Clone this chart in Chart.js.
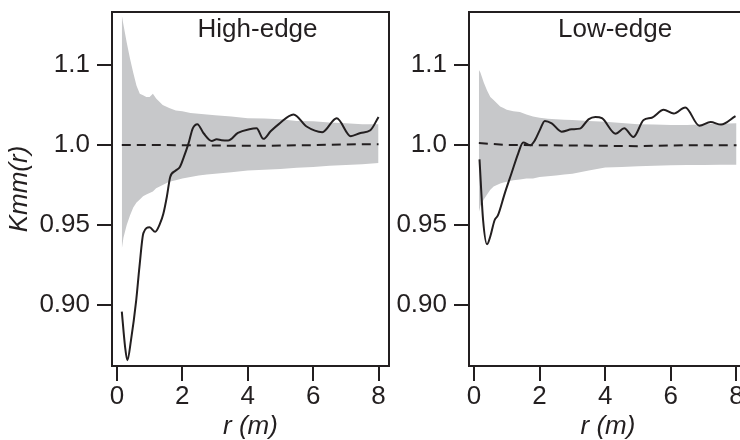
<!DOCTYPE html>
<html>
<head>
<meta charset="utf-8">
<script src="https://cdn.jsdelivr.net/npm/chart.js@4.4.7/dist/chart.umd.min.js"></script>
<style>
  html, body { margin: 0; padding: 0; background: #fff; overflow: hidden; }
  body { width: 740px; height: 440px; position: relative; }
  .panel { position: absolute; top: 0; height: 440px; }
  #highBox { left: 0; width: 400px; }
  #lowBox { left: 380px; width: 380px; }
</style>
</head>
<body>
<div class="panel" id="highBox"><canvas id="highChart"></canvas></div>
<div class="panel" id="lowBox"><canvas id="lowChart"></canvas></div>
<script>
// simulation envelope (grey band), shared r grid
const rBand = [0.15, 0.2, 0.3, 0.4, 0.5, 0.6, 0.7, 0.8, 0.9, 1.0, 1.1, 1.2, 1.4, 1.6, 1.8,
  2.0, 2.25, 2.5, 2.75, 3.0, 3.5, 4.0, 4.5, 5.0, 5.5, 6.0, 6.5, 7.0, 7.5, 8.0];
const highUpper = [1.081, 1.075, 1.064, 1.054, 1.045, 1.037, 1.032, 1.031, 1.030, 1.030, 1.032, 1.029, 1.025, 1.023, 1.0215,
  1.021, 1.020, 1.0195, 1.019, 1.0185, 1.0177, 1.0167, 1.0165, 1.016, 1.015, 1.0148, 1.014, 1.0135, 1.013, 1.013];
const highLower = [0.935, 0.942, 0.950, 0.956, 0.961, 0.964, 0.966, 0.968, 0.969, 0.970, 0.971, 0.973, 0.975, 0.977, 0.978,
  0.979, 0.980, 0.981, 0.9815, 0.982, 0.983, 0.984, 0.9845, 0.985, 0.9857, 0.9863, 0.987, 0.9875, 0.988, 0.9887];
const lowUpper = [1.047, 1.045, 1.039, 1.034, 1.030, 1.028, 1.026, 1.024, 1.023, 1.022, 1.0215, 1.021, 1.0205, 1.019, 1.0178,
  1.017, 1.0163, 1.016, 1.0157, 1.0155, 1.015, 1.0145, 1.0137, 1.013, 1.0128, 1.0125, 1.0125, 1.013, 1.0132, 1.0135];
const lowLower = [0.958, 0.962, 0.966, 0.969, 0.972, 0.974, 0.975, 0.976, 0.9765, 0.977, 0.9775, 0.978, 0.9785, 0.979, 0.979,
  0.980, 0.9805, 0.981, 0.9815, 0.982, 0.984, 0.986, 0.9863, 0.9867, 0.987, 0.9873, 0.9875, 0.9875, 0.9876, 0.9876];

// expected value (dashed)
const rTheo = [0.15, 1, 2, 3, 4, 5, 6, 7, 8];
const highTheo = [1.0, 1.0, 0.9998, 0.9996, 0.9995, 0.9996, 0.9999, 1.0003, 1.0005];
const lowTheo = [1.0012, 1.0, 0.9998, 0.9997, 0.9995, 0.9992, 0.9997, 0.9998, 0.9998];

// observed Kmm(r)
const rHigh = [0.15, 0.25, 0.32, 0.43, 0.59, 0.69, 0.81, 1.0, 1.17, 1.32, 1.42, 1.53, 1.63, 1.78, 1.93, 2.05, 2.19, 2.32, 2.46,
  2.65, 2.9, 3.05, 3.2, 3.4, 3.7, 4.05, 4.27, 4.48, 4.7, 4.95, 5.4, 5.8, 6.28, 6.72, 7.15, 7.45, 7.75, 8.0];
const kHigh = [0.896, 0.874, 0.8656, 0.878, 0.903, 0.924, 0.945, 0.9486, 0.9458, 0.951, 0.957, 0.968, 0.980, 0.9837, 0.9864, 0.9927, 1.001, 1.0104, 1.013,
  1.0073, 1.0025, 1.0035, 1.003, 1.0028, 1.0075, 1.0098, 1.0104, 1.0038, 1.0085, 1.013, 1.019, 1.0115, 1.008, 1.0167, 1.0055, 1.0075, 1.0092, 1.0175];
const rLow = [0.17, 0.28, 0.40, 0.5, 0.63, 0.73, 0.94, 1.14, 1.35, 1.50, 1.72, 1.86, 2.01, 2.16, 2.37, 2.67, 2.98, 3.23, 3.49, 3.70, 3.90,
  4.32, 4.58, 4.86, 5.17, 5.42, 5.78, 6.09, 6.44, 6.87, 7.21, 7.53, 7.97];
const kLow = [0.991, 0.953, 0.938, 0.943, 0.953, 0.956, 0.9698, 0.982, 0.9948, 1.0015, 0.9998, 1.003, 1.0094, 1.015, 1.0135, 1.0083, 1.0098, 1.0102, 1.016, 1.0175, 1.0167,
  1.007, 1.0104, 1.005, 1.0156, 1.017, 1.0219, 1.0196, 1.0234, 1.012, 1.0143, 1.0127, 1.018];

const xTicks = [0, 2, 4, 6, 8];
const yTicks = [0.90, 0.95, 1.00, 1.05];
const yTickLabels = ['0.90', '0.95', '1.0', '1.1'];

const FONT = '"Liberation Sans", Arial, Helvetica, sans-serif';
const INK = '#231f20';
const BAND = '#c7c8ca';

function pts(xs, ys) {
  return xs.map((x, i) => ({ x, y: ys[i] }));
}

// frame round the plot and the panel label inside it
const panelFrame = {
  id: 'panelFrame',
  afterDraw(chart, args, opts) {
    const { ctx, chartArea: a, scales } = chart;
    ctx.save();
    ctx.strokeStyle = INK;
    ctx.lineWidth = 2;
    ctx.strokeRect(a.left, a.top, a.right - a.left, a.bottom - a.top);
    ctx.fillStyle = INK;
    ctx.font = '26px ' + FONT;
    ctx.textAlign = 'center';
    ctx.textBaseline = 'alphabetic';
    ctx.fillText(opts.text, scales.x.getPixelForValue(opts.at), a.top + 25);
    ctx.restore();
  }
};

function makePanel(id, p) {
  return new Chart(document.getElementById(id), {
    type: 'line',
    data: {
      datasets: [
        { data: pts(p.r, p.k), borderColor: INK, borderWidth: 2, pointRadius: 0,
          cubicInterpolationMode: 'monotone', fill: false, order: 0 },
        { data: pts(rTheo, p.theo), borderColor: INK, borderWidth: 2, borderDash: [9, 6],
          pointRadius: 0, tension: 0, fill: false, order: 1 },
        { data: pts(rBand, p.upper), borderWidth: 0, borderColor: 'transparent', pointRadius: 0,
          tension: 0, fill: false, order: 2 },
        { data: pts(rBand, p.lower), borderWidth: 0, borderColor: 'transparent', pointRadius: 0,
          tension: 0, fill: '-1', backgroundColor: BAND, order: 3 },
      ],
    },
    options: {
      responsive: true,
      maintainAspectRatio: false,
      animation: false,
      events: [],
      layout: { padding: { top: 12, right: p.padRight, left: 0, bottom: 0 } },
      plugins: {
        legend: { display: false },
        tooltip: { enabled: false },
        panelFrame: { text: p.title, at: 4.3 },
      },
      scales: {
        x: {
          type: 'linear',
          min: -0.15,
          max: 8.32,
          afterBuildTicks: s => { s.ticks = xTicks.map(v => ({ value: v })); },
          afterFit: s => { s.height = 74; s.paddingLeft = 0; s.paddingRight = 0; },
          grid: { drawOnChartArea: false, drawTicks: true, tickLength: 15, color: INK, lineWidth: 2 },
          border: { display: true, color: INK, width: 2 },
          ticks: { color: INK, padding: 3, maxRotation: 0, font: { family: FONT, size: 26, lineHeight: 1 } },
          title: {
            display: true,
            text: 'r (m)',
            color: INK,
            padding: { top: 0, bottom: 0 },
            font: { family: FONT, size: 26, style: 'italic', lineHeight: 1 },
          },
        },
        y: {
          type: 'linear',
          min: 0.862,
          max: 1.083,
          afterBuildTicks: s => { s.ticks = yTicks.map(v => ({ value: v })); },
          afterFit: s => { s.width = p.yWidth; s.paddingTop = 0; s.paddingBottom = 0; },
          grid: { drawOnChartArea: false, drawTicks: true, tickLength: 15, color: INK, lineWidth: 2 },
          border: { display: true, color: INK, width: 2 },
          ticks: {
            color: INK,
            padding: 7,
            font: { family: FONT, size: 26, lineHeight: 1 },
            callback: v => yTickLabels[yTicks.indexOf(v)],
          },
          title: {
            display: p.yTitle,
            text: 'Kmm(r)',
            color: INK,
            padding: { top: 7, bottom: 0 },
            font: { family: FONT, size: 26, style: 'italic', lineHeight: 1 },
          },
        },
      },
    },
    plugins: [panelFrame],
  });
}

makePanel('highChart', {
  title: 'High-edge', r: rHigh, k: kHigh, theo: highTheo, upper: highUpper, lower: highLower,
  yWidth: 112, padRight: 11, yTitle: true,
});
makePanel('lowChart', {
  title: 'Low-edge', r: rLow, k: kLow, theo: lowTheo, upper: lowUpper, lower: lowLower,
  yWidth: 89, padRight: 13, yTitle: false,
});
</script>
</body>
</html>
